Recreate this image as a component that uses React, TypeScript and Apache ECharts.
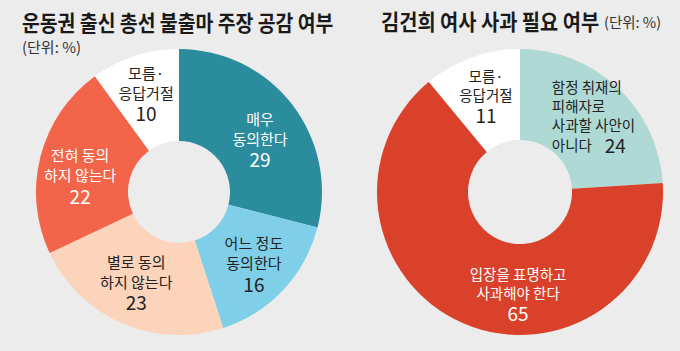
import React, { useEffect, useRef } from 'react';
import * as echarts from 'echarts';

const leftTitle = '운동권 출신 총선 불출마 주장 공감 여부';
const rightTitle = '김건희 여사 사과 필요 여부';
const unitText = '(단위: %)';

const leftCategories = ['매우\n동의한다', '어느 정도\n동의한다', '별로 동의\n하지 않는다', '전혀 동의\n하지 않는다', '모름·\n응답거절'];
const leftValues = [29, 16, 23, 22, 10];

const rightCategories = ['함정 취재의\n피해자로\n사과할 사안이\n아니다', '입장을 표명하고\n사과해야 한다', '모름·\n응답거절'];
const rightValues = [24, 65, 11];

const leftColors = ['#2b8c9e', '#7fcfe9', '#fcd3bb', '#f2654a', '#ffffff'];
const leftTextColors = ['#ffffff', '#222222', '#222222', '#ffffff', '#222222'];
const rightColors = ['#aed9d4', '#d9412a', '#ffffff'];
const rightTextColors = ['#222222', '#ffffff', '#222222'];

const leftLabelShift = [[2, 8], [2, 3], [-3, -2], [-2, 8], [-2, -4]];
const rightLabelShift = [[-37, -3], [38, 9], [0, -2]];

const FONT = '"Noto Sans CJK KR", "Noto Sans", sans-serif';

function fmt(inlineFirst: boolean) {
  return (p: any) => {
    const lines: string[] = String(p.name).split('\n');
    if (inlineFirst && p.dataIndex === 0) {
      const head = lines.slice(0, -1).map((l) => `{t|${l}}`).join('\n');
      return `${head}\n{t|${lines[lines.length - 1]}    }{n|${p.value}}`;
    }
    return lines.map((l) => `{t|${l}}`).join('\n') + `\n{n|${p.value}}`;
  };
}

const leftRich = {
  t: { fontSize: 15, lineHeight: 20, fontFamily: FONT },
  n: { fontSize: 19, lineHeight: 21, fontFamily: FONT },
};
const rightRich = {
  t: { fontSize: 14.5, lineHeight: 19, fontFamily: FONT },
  n: { fontSize: 19, lineHeight: 21, fontFamily: FONT },
};

export default function App() {
  const ref = useRef<HTMLDivElement>(null);
  useEffect(() => {
    document.body.style.margin = '0';
    const chart = echarts.init(ref.current!, undefined, { renderer: 'svg' });
    const option: any = {
      animation: false,
      backgroundColor: '#ececec',
      graphic: [
        {
          type: 'text', x: 22, y: 21, scaleX: 0.88,
          style: { text: leftTitle, fontSize: 22, fontWeight: 'bold', fontFamily: FONT, fill: '#1a1a1a', verticalAlign: 'middle' },
        },
        {
          type: 'text', x: 22, y: 46,
          style: { text: unitText, fontSize: 15, fontFamily: FONT, fill: '#333333', verticalAlign: 'middle' },
        },
        {
          type: 'text', x: 381, y: 21, scaleX: 0.9,
          style: { text: rightTitle, fontSize: 22, fontWeight: 'bold', fontFamily: FONT, fill: '#1a1a1a', verticalAlign: 'middle' },
        },
        {
          type: 'text', x: 604, y: 21,
          style: { text: unitText, fontSize: 14.5, fontFamily: FONT, fill: '#333333', verticalAlign: 'middle' },
        },
      ],
      series: [
        {
          type: 'pie',
          center: [179, 192],
          radius: [51, 143],
          startAngle: 90,
          clockwise: true,
          silent: true,
          emphasis: { disabled: true },
          label: { show: true, position: 'inside', formatter: fmt(false), rich: leftRich, fontFamily: FONT },
          labelLine: { show: false },
          labelLayout: (p: any) => ({ dx: leftLabelShift[p.dataIndex][0], dy: leftLabelShift[p.dataIndex][1] }),
          data: leftCategories.map((name, i) => ({
            name,
            value: leftValues[i],
            itemStyle: { color: leftColors[i] },
            label: { color: leftTextColors[i] },
          })),
        },
        {
          type: 'pie',
          center: [520, 192],
          radius: [52, 143],
          startAngle: 90,
          clockwise: true,
          silent: true,
          emphasis: { disabled: true },
          label: { show: true, position: 'inside', formatter: fmt(true), rich: rightRich, fontFamily: FONT },
          labelLine: { show: false },
          labelLayout: (p: any) => ({
            dx: rightLabelShift[p.dataIndex][0],
            dy: rightLabelShift[p.dataIndex][1],
            align: p.dataIndex === 0 ? 'left' : 'center',
          }),
          data: rightCategories.map((name, i) => ({
            name,
            value: rightValues[i],
            itemStyle: { color: rightColors[i] },
            label: { color: rightTextColors[i] },
          })),
        },
      ],
    };
    chart.setOption(option);
    return () => chart.dispose();
  }, []);
  return <div ref={ref} style={{ width: 680, height: 351, position: 'absolute', left: 0, top: 0, background: '#ececec' }} />;
}
